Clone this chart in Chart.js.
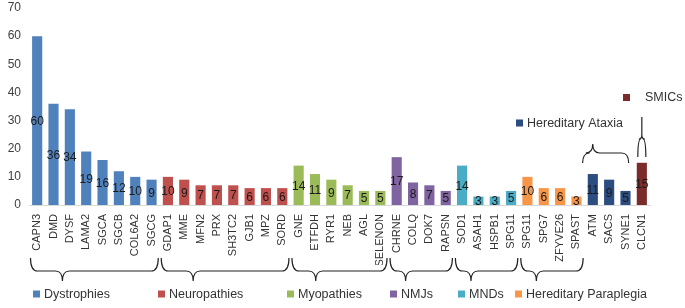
<!DOCTYPE html>
<html>
<head>
<meta charset="utf-8">
<script src="https://cdn.jsdelivr.net/npm/chart.js@4"></script>
<style>
  html, body { margin: 0; padding: 0; background: #fff; }
  #wrap { position: relative; width: 685px; height: 308px; }
</style>
</head>
<body>
<div id="wrap"><canvas id="chart"></canvas></div>
<script>
const categories = [
  "CAPN3", "DMD", "DYSF", "LAMA2", "SGCA", "SGCB", "COL6A2", "SGCG",
  "GDAP1", "MME", "MFN2", "PRX", "SH3TC2", "GJB1", "MPZ", "SORD",
  "GNE", "ETFDH", "RYR1", "NEB", "AGL", "SELENON",
  "CHRNE", "COLQ", "DOK7", "RAPSN",
  "SOD1", "ASAH1", "HSPB1", "SPG11",
  "SPG11", "SPG7", "ZFYVE26", "SPAST",
  "ATM", "SACS", "SYNE1",
  "CLCN1"
]
const counts = [
  60, 36, 34, 19, 16, 12, 10, 9,
  10, 9, 7, 7, 7, 6, 6, 6,
  14, 11, 9, 7, 5, 5,
  17, 8, 7, 5,
  14, 3, 3, 5,
  10, 6, 6, 3,
  11, 9, 5,
  15
]
const groupNames = ["Dystrophies", "Neuropathies", "Myopathies", "NMJs", "MNDs", "Hereditary Paraplegia", "Hereditary Ataxia", "SMICs"]
const groupSizes = [8, 8, 6, 4, 4, 4, 3, 1]
const groupColors = ["#4f81bd", "#c0504d", "#9bbb59", "#8064a2", "#4bacc6", "#f79646", "#2c4d7f", "#7b2c2a"]
const yTicks = [0, 10, 20, 30, 40, 50, 60, 70]

const FONT = "'Liberation Sans', Arial, sans-serif"

// colour per bar from its group
const barColors = []
groupSizes.forEach((n, g) => { for (let i = 0; i < n; i++) barColors.push(groupColors[g]) })

// group start indexes
const groupStarts = []
groupSizes.reduce((acc, n) => { groupStarts.push(acc); return acc + n }, 0)

function brace(ctx, x1, x2, yEnd, yMid, yTip, tipX, r) {
  ctx.beginPath()
  ctx.moveTo(x1, yEnd)
  ctx.quadraticCurveTo(x1, yMid, x1 + r, yMid)
  ctx.lineTo(tipX - r, yMid)
  ctx.quadraticCurveTo(tipX, yMid, tipX, yTip)
  ctx.quadraticCurveTo(tipX, yMid, tipX + r, yMid)
  ctx.lineTo(x2 - r, yMid)
  ctx.quadraticCurveTo(x2, yMid, x2, yEnd)
  ctx.stroke()
}

function legendItem(ctx, x, y, color, text) {
  ctx.fillStyle = color
  ctx.fillRect(x, y - 3.5, 7, 7)
  ctx.fillStyle = "#333"
  ctx.font = "12.5px " + FONT
  ctx.textAlign = "left"
  ctx.textBaseline = "middle"
  ctx.fillText(text, x + 11, y + 0.5)
}

const valueLabels = {
  id: "valueLabels",
  afterDatasetsDraw(chart) {
    const { ctx } = chart
    const meta = chart.getDatasetMeta(0)
    ctx.save()
    ctx.font = "12px " + FONT
    ctx.fillStyle = "#1a1a1a"
    ctx.textAlign = "center"
    ctx.textBaseline = "middle"
    meta.data.forEach((bar, i) => {
      ctx.fillText(String(counts[i]), bar.x, (bar.y + bar.base) / 2 + 1)
    })
    ctx.restore()
  }
}

const groupMarks = {
  id: "groupMarks",
  afterDraw(chart) {
    const { ctx } = chart
    const xs = chart.scales.x
    const half = (xs.getPixelForValue(1) - xs.getPixelForValue(0)) / 2
    ctx.save()
    ctx.strokeStyle = "#222"
    ctx.lineWidth = 1.2

    // braces under the axis for the first six groups
    for (let g = 0; g < 6; g++) {
      const a = xs.getPixelForValue(groupStarts[g]) - half + 1.5
      const b = xs.getPixelForValue(groupStarts[g] + groupSizes[g] - 1) + half - 1.5
      brace(ctx, a, b, 258, 271, 281, a + (b - a) * 0.25, 7)
    }

    // Hereditary Ataxia brace above its bars
    const ha = groupStarts[6]
    const a = xs.getPixelForValue(ha) - half - 2
    const b = xs.getPixelForValue(ha + groupSizes[6] - 1) + half - 5
    brace(ctx, a, b, 163, 153, 144, a + (b - a) * 0.22, 7)

    // SMICs pointer
    const cx = xs.getPixelForValue(groupStarts[7])
    ctx.beginPath()
    ctx.moveTo(cx, 117)
    ctx.lineTo(cx, 135)
    ctx.stroke()
    brace(ctx, cx - 4, cx + 4, 157, 139, 135, cx, 3)

    // legend
    const pos = [[33, 294], [158, 294], [287, 294], [390, 294], [458, 294], [515, 294]]
    pos.forEach((p, g) => legendItem(ctx, p[0], p[1], groupColors[g], groupNames[g]))
    legendItem(ctx, 516, 123, groupColors[6], groupNames[6])
    ctx.fillStyle = groupColors[7]
    ctx.fillRect(623, 94, 7, 7)
    ctx.fillStyle = "#333"
    ctx.font = "12.5px " + FONT
    ctx.textAlign = "left"
    ctx.textBaseline = "middle"
    ctx.fillText(groupNames[7], 645, 98)
    ctx.restore()
  }
}

new Chart(document.getElementById("chart"), {
  type: "bar",
  data: {
    labels: categories,
    datasets: [{
      data: counts,
      backgroundColor: barColors,
      borderWidth: 0,
      barPercentage: 0.62,
      categoryPercentage: 1
    }]
  },
  options: {
    responsive: true,
    maintainAspectRatio: false,
    animation: false,
    layout: { padding: { top: 8, right: 35, bottom: 43, left: 0 } },
    plugins: {
      legend: { display: false },
      tooltip: { enabled: false }
    },
    scales: {
      x: {
        grid: { display: false, drawTicks: false },
        border: { display: true, color: "#d9d9d9", width: 1 },
        ticks: {
          color: "#333",
          font: { family: FONT, size: 11 },
          minRotation: 90,
          maxRotation: 90,
          autoSkip: false,
          padding: 9
        },
        afterFit(scale) { scale.height = 60 }
      },
      y: {
        min: 0,
        max: 70,
        grid: { display: false, drawTicks: false },
        border: { display: false },
        afterBuildTicks(scale) { scale.ticks = yTicks.map(v => ({ value: v })) },
        ticks: {
          color: "#404040",
          font: { family: FONT, size: 12 },
          padding: 8
        },
        afterFit(scale) {
          scale.width = 29
          scale.paddingTop = 0
          scale.paddingBottom = 0
        }
      }
    }
  },
  plugins: [valueLabels, groupMarks]
})
</script>
</body>
</html>
